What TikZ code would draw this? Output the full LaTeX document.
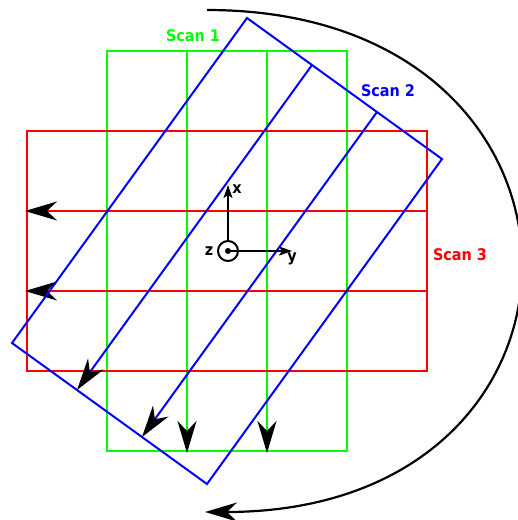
\documentclass[tikz,border=0pt]{standalone}
\usepackage{fontspec}
\newfontfamily\labfont{DejaVu Sans Condensed}
\usetikzlibrary{arrows.meta,calc}

\begin{document}
\begin{tikzpicture}[x=1pt,y=-1pt,
  scan/.style={line width=2.2pt},
  scanarrow/.style={-{Stealth[length=32pt,width=19pt,inset=10pt,color=black]}},
  axis/.style={line width=2pt,-{Stealth[length=13pt,width=9pt,inset=3pt]}},
  lab/.style={font=\labfont\bfseries\fontsize{16}{19}\selectfont,inner sep=0pt}]
\useasboundingbox (0,0) rectangle (518,520);
% scan 1: green grid, lines downwards
\coordinate (g1) at (107,51); \coordinate (g2) at (347,451);
\draw[scan,green] (g1) rectangle (g2);
\foreach \x in {187,267}{
  \coordinate (gt\x) at (\x,51); \coordinate (gb\x) at (\x,453);
  \draw[scan,green,scanarrow] (gt\x) -- (gb\x);}
\node[lab,green] (scan1) at (193,36) {Scan 1};
% scan 3: red grid, lines to the left
\coordinate (r1) at (27,131); \coordinate (r2) at (427,371);
\draw[scan,red] (r1) rectangle (r2);
\foreach \y in {211,291}{
  \coordinate (rr\y) at (427,\y); \coordinate (rl\y) at (25,\y);
  \draw[scan,red,scanarrow] (rr\y) -- (rl\y);}
\node[lab,red] (scan3) at (460,255) {Scan 3};
% scan 2: rotated blue grid
\coordinate (bA) at (247,18); \coordinate (bB) at (442,159);
\coordinate (bC) at (207,484); \coordinate (bD) at (12,343);
\draw[line width=2pt,blue] (bA) -- (bB) -- (bC) -- (bD) -- cycle;
\foreach \f in {1,2}{
  \coordinate (bt\f) at ($(bA)!\f/3!(bB)$);
  \coordinate (bb\f) at ($(bD)!\f/3!(bC)$);
  \draw[line width=2pt,blue,scanarrow] (bt\f) -- (bb\f);}
\node[lab,blue] (scan2) at (388,91) {Scan 2};
% rotation between the scans
\coordinate (arcstart) at (207,10); \coordinate (arcend) at (205,512);
\draw[line width=2.2pt,scanarrow] (arcstart) .. controls (624,10) and (624,512) .. (arcend);
% axes
\node[circle,draw,line width=2pt,minimum size=20pt,inner sep=0pt] (origin) at (228,251) {};
\fill (origin.center) circle (3pt);
\coordinate (xtip) at (228,185); \coordinate (ytip) at (292,251);
\draw[axis] (origin.north) -- (xtip);
\draw[axis] (origin.center) -- (ytip);
\node[lab] (xlab) at (237,189) {x};
\node[lab] (ylab) at (292,259) {y};
\node[lab] (zlab) at (209,251) {z};
\end{tikzpicture}
\end{document}
